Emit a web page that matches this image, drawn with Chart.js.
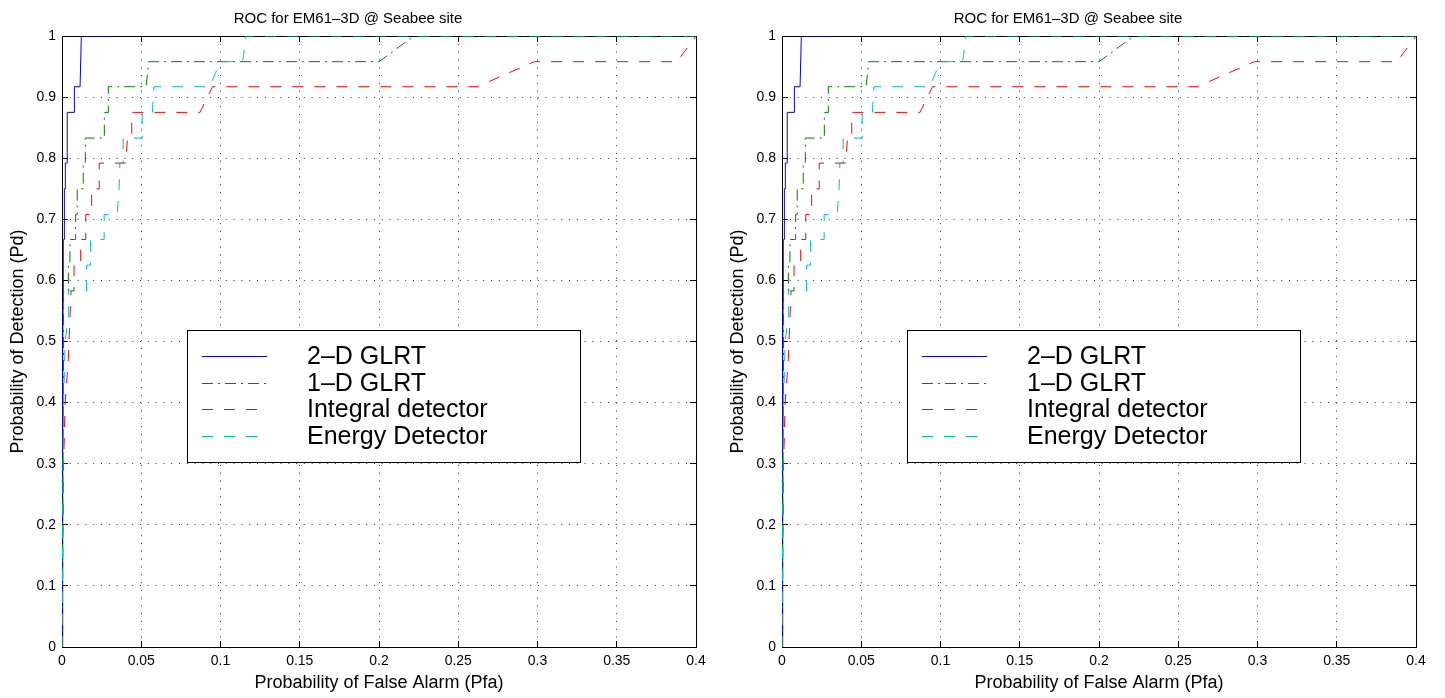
<!DOCTYPE html>
<html>
<head>
<meta charset="utf-8">
<script src="https://cdn.jsdelivr.net/npm/chart.js@4.4.0/dist/chart.umd.min.js"></script>
<style>
  html, body { margin: 0; padding: 0; background: #fff; }
  body { width: 1445px; height: 698px; position: relative; overflow: hidden; }
  canvas { position: absolute; top: 0; }
  #rocLeft { left: 0; }
  #rocRight { left: 720px; }
</style>
</head>
<body>
<canvas id="rocLeft" width="720" height="698"></canvas>
<canvas id="rocRight" width="720" height="698"></canvas>
<script>
const chartTitle = 'ROC for EM61\u20133D @ Seabee site';
const xAxisTitle = 'Probability of False Alarm (Pfa)';
const yAxisTitle = 'Probability of Detection (Pd)';

const seriesNames = ['2\u2013D GLRT', '1\u2013D GLRT', 'Integral detector', 'Energy Detector'];

const xTickLabels = ['0', '0.05', '0.1', '0.15', '0.2', '0.25', '0.3', '0.35', '0.4'];
const yTickLabels = ['0', '0.1', '0.2', '0.3', '0.4', '0.5', '0.6', '0.7', '0.8', '0.9', '1'];

// 2-D GLRT
const pfa2D = [0, 0.0003, 0.0006, 0.0008, 0.0008, 0.0015, 0.0015, 0.0021, 0.0021, 0.0033, 0.0033, 0.0078, 0.0078, 0.0114, 0.0122, 0.03];
const pd2D  = [0, 0.25, 0.5, 0.583, 0.667, 0.667, 0.75, 0.75, 0.792, 0.792, 0.875, 0.875, 0.917, 0.917, 1, 1];

// 1-D GLRT
const pfa1D = [0, 0.0005, 0.001, 0.001, 0.004, 0.004, 0.005, 0.005, 0.0086, 0.0086, 0.0096, 0.0096, 0.0134, 0.0134, 0.0147, 0.0147, 0.025, 0.0267, 0.0267, 0.0292, 0.0292, 0.053, 0.0548, 0.2, 0.222, 0.4];
const pd1D  = [0, 0.25, 0.5, 0.583, 0.583, 0.625, 0.625, 0.667, 0.667, 0.708, 0.708, 0.75, 0.75, 0.792, 0.792, 0.833, 0.833, 0.833, 0.875, 0.875, 0.917, 0.917, 0.958, 0.958, 1, 1];

// Integral detector
const pfaIntegral = [0, 0.0005, 0.001, 0.002, 0.004, 0.005, 0.0057, 0.0076, 0.0076, 0.0118, 0.0118, 0.015, 0.015, 0.0187, 0.0187, 0.0235, 0.0235, 0.04, 0.0414, 0.044, 0.044, 0.087, 0.095, 0.262, 0.298, 0.388, 0.4];
const pdIntegral  = [0, 0.15, 0.3, 0.4, 0.47, 0.54, 0.583, 0.583, 0.625, 0.625, 0.667, 0.667, 0.708, 0.708, 0.75, 0.75, 0.792, 0.792, 0.833, 0.833, 0.875, 0.875, 0.917, 0.917, 0.958, 0.958, 1];

// Energy detector
const pfaEnergy = [0, 0.0004, 0.001, 0.002, 0.004, 0.004, 0.0155, 0.0155, 0.018, 0.018, 0.0266, 0.0266, 0.0348, 0.036, 0.0365, 0.0386, 0.0386, 0.0506, 0.0506, 0.057, 0.058, 0.093, 0.1, 0.114, 0.116, 0.4];
const pdEnergy  = [0, 0.2, 0.4, 0.5, 0.542, 0.583, 0.583, 0.625, 0.625, 0.667, 0.667, 0.708, 0.708, 0.75, 0.792, 0.792, 0.833, 0.833, 0.875, 0.875, 0.917, 0.917, 0.958, 0.958, 1, 1];

const FONT = 'Liberation Sans, Arial, Helvetica, sans-serif';

function toPoints(xs, ys) {
    return xs.map((x, i) => ({ x: x, y: ys[i] }));
}

function alignPx(p) {
    return Math.round(p - 0.5) + 0.5;
}

// box round the axes with inward tick marks on all four sides
const matlabAxes = {
    id: 'matlabAxes',
    beforeDatasetsDraw(chart) {
        const { ctx, chartArea: a, scales: { x, y } } = chart;
        ctx.save();
        ctx.strokeStyle = '#000';
        ctx.lineWidth = 1;
        ctx.beginPath();
        x.ticks.forEach(t => {
            const px = alignPx(x.getPixelForValue(t.value));
            ctx.moveTo(px, a.bottom); ctx.lineTo(px, a.bottom - 6);
            ctx.moveTo(px, a.top); ctx.lineTo(px, a.top + 6);
        });
        y.ticks.forEach(t => {
            const py = alignPx(y.getPixelForValue(t.value));
            ctx.moveTo(a.left, py); ctx.lineTo(a.left + 6, py);
            ctx.moveTo(a.right, py); ctx.lineTo(a.right - 6, py);
        });
        ctx.stroke();
        const l = alignPx(a.left), t = alignPx(a.top);
        ctx.strokeRect(l, t, alignPx(a.right) - l, alignPx(a.bottom) - t);
        ctx.restore();
    }
};

// legend box drawn inside the plot like matlab does
const boxLegend = {
    id: 'boxLegend',
    afterDatasetsDraw(chart) {
        const { ctx, chartArea: a } = chart;
        const left = Math.round(a.left + 125), top = Math.round(a.top + 294);
        const w = 393, h = 132;
        ctx.save();
        ctx.fillStyle = '#fff';
        ctx.fillRect(left, top, w, h);
        ctx.strokeStyle = '#000';
        ctx.lineWidth = 1;
        ctx.strokeRect(left + 0.5, top + 0.5, w, h);
        chart.data.datasets.forEach((ds, i) => {
            const yy = Math.round(top + 26 + i * 26.6) + 0.5;
            ctx.strokeStyle = ds.borderColor;
            ctx.lineWidth = 1;
            ctx.setLineDash(ds.borderDash || []);
            ctx.beginPath();
            ctx.moveTo(left + 15, yy);
            ctx.lineTo(left + 80, yy);
            ctx.stroke();
            ctx.setLineDash([]);
            ctx.fillStyle = '#000';
            ctx.font = '25px ' + FONT;
            ctx.textBaseline = 'middle';
            ctx.textAlign = 'left';
            ctx.fillText(ds.label, left + 120, yy + 1);
        });
        ctx.restore();
    }
};

function makeChart(canvasId) {
    const ctx = document.getElementById(canvasId).getContext('2d');
    return new Chart(ctx, {
        type: 'line',
        data: {
            datasets: [{
                label: seriesNames[0],
                data: toPoints(pfa2D, pd2D),
                borderColor: 'rgb(0,0,255)',
                order: 4
            }, {
                label: seriesNames[1],
                data: toPoints(pfa1D, pd1D),
                borderColor: 'rgb(0,128,0)',
                borderDash: [11, 5, 2, 5],
                order: 3
            }, {
                label: seriesNames[2],
                data: toPoints(pfaIntegral, pdIntegral),
                borderColor: 'rgb(255,0,0)',
                borderDash: [11, 11],
                order: 2
            }, {
                label: seriesNames[3],
                data: toPoints(pfaEnergy, pdEnergy),
                borderColor: 'rgb(0,191,191)',
                borderDash: [11, 11],
                order: 1
            }]
        },
        options: {
            responsive: false,
            animation: false,
            devicePixelRatio: 1,
            elements: {
                point: { radius: 0 },
                line: { borderWidth: 1, tension: 0, fill: false }
            },
            layout: { padding: { left: 0, right: 24, top: 0, bottom: 0 } },
            plugins: {
                legend: { display: false },
                tooltip: { enabled: false },
                title: {
                    display: true,
                    text: chartTitle,
                    color: '#000',
                    font: { family: FONT, size: 15, weight: 'normal' },
                    padding: { top: 10, bottom: 8 }
                }
            },
            scales: {
                x: {
                    type: 'linear',
                    min: 0,
                    max: 0.4,
                    afterFit: s => { s.height = 51; },
                    border: { display: false, dash: [1, 6.8] },
                    grid: { color: 'rgba(0,0,0,0.8)', drawTicks: false },
                    ticks: {
                        stepSize: 0.05,
                        autoSkip: false,
                        maxRotation: 0,
                        padding: 6,
                        color: '#000',
                        font: { family: FONT, size: 14 },
                        callback: v => xTickLabels[Math.round(v / 0.05)]
                    },
                    title: {
                        display: true,
                        text: xAxisTitle,
                        color: '#000',
                        font: { family: FONT, size: 18 },
                        padding: { top: 0, bottom: 4.5 }
                    }
                },
                y: {
                    type: 'linear',
                    min: 0,
                    max: 1,
                    afterFit: s => { s.width = 62; },
                    border: { display: false, dash: [1, 6.8] },
                    grid: { color: 'rgba(0,0,0,0.8)', drawTicks: false },
                    ticks: {
                        stepSize: 0.1,
                        autoSkip: false,
                        padding: 6,
                        color: '#000',
                        font: { family: FONT, size: 14 },
                        callback: v => yTickLabels[Math.round(v / 0.1)]
                    },
                    title: {
                        display: true,
                        text: yAxisTitle,
                        color: '#000',
                        font: { family: FONT, size: 18 },
                        padding: { top: 7, bottom: 0 }
                    }
                }
            }
        },
        plugins: [matlabAxes, boxLegend]
    });
}

const leftChart = makeChart('rocLeft');
const rightChart = makeChart('rocRight');
</script>
</body>
</html>
